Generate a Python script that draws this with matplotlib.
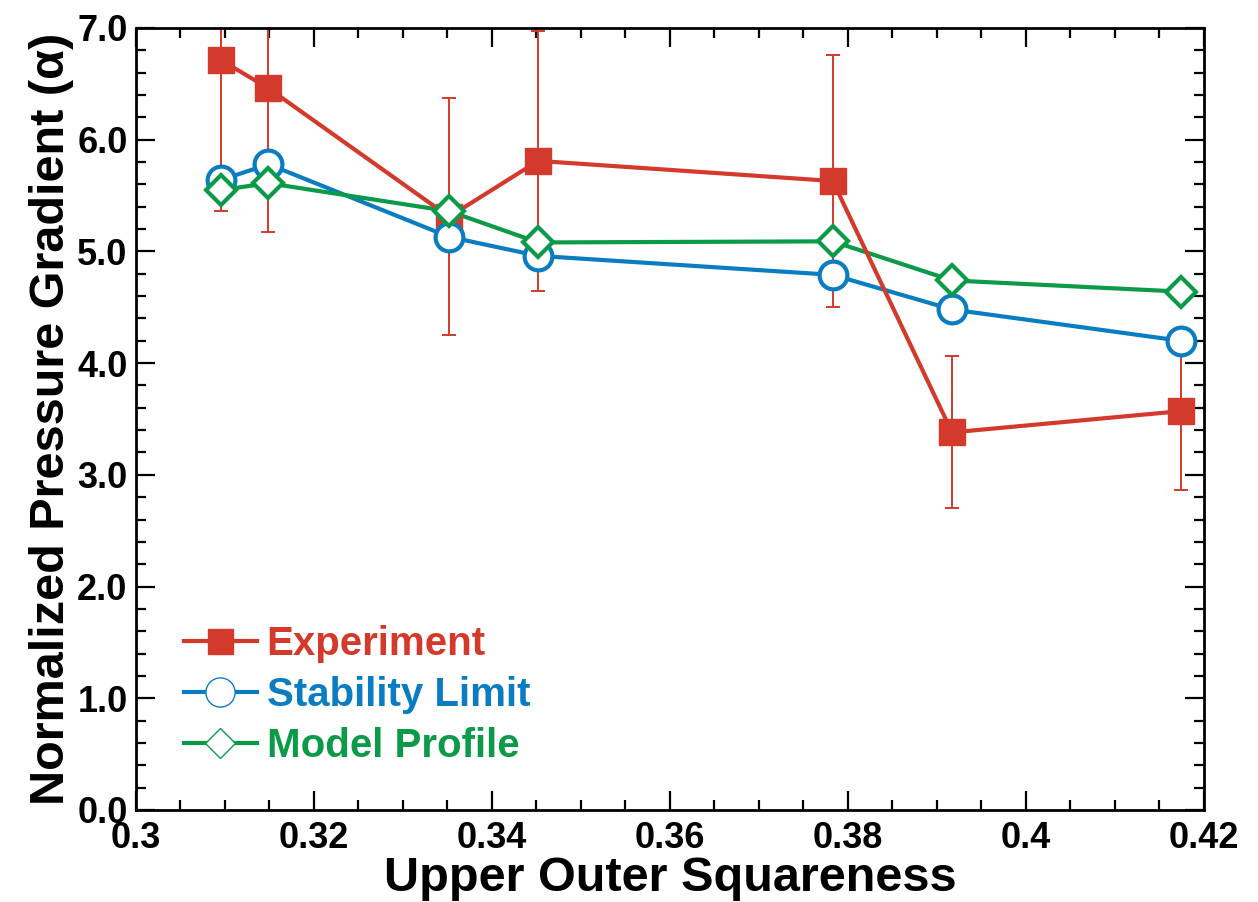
import matplotlib
matplotlib.use('Agg')
import matplotlib.pyplot as plt
from matplotlib.lines import Line2D
from matplotlib.ticker import MultipleLocator, FuncFormatter

plt.rcParams['font.family'] = ['Liberation Sans', 'DejaVu Sans']
plt.rcParams['font.weight'] = 'bold'

# squareness values
sq = [0.3096, 0.3149, 0.3352, 0.3452, 0.3783, 0.3917, 0.4174]
# experiment alpha with error bars
exp_alpha = [6.71, 6.46, 5.31, 5.81, 5.63, 3.38, 3.57]
exp_err = [1.35, 1.29, 1.06, 1.16, 1.13, 0.68, 0.71]
# stability limit
stab = [5.64, 5.78, 5.13, 4.96, 4.79, 4.48, 4.20]
# model profile
model = [5.55, 5.61, 5.36, 5.08, 5.09, 4.74, 4.64]

red = '#d43a2b'
blue = '#0a7dc2'
green = '#0b9a48'

fig = plt.figure(figsize=(12.58, 9.02), dpi=100)
ax = fig.add_axes([0.108, 0.102, 0.849, 0.867])

ax.errorbar(sq, exp_alpha, yerr=exp_err, fmt='none', ecolor=red, elinewidth=1.4,
            capsize=5, capthick=1.4, zorder=2)
ax.plot(sq, stab, color=blue, lw=3, zorder=3)
ax.plot(sq, model, color=green, lw=3, zorder=3)
ax.plot(sq, exp_alpha, color=red, lw=3, zorder=4)
ax.plot(sq, exp_alpha, ls='none', marker='s', ms=18.5, color=red, zorder=5)
ax.plot(sq, stab, ls='none', marker='o', ms=20, mfc='white', mec=blue, mew=3, zorder=6)
ax.plot(sq, model, ls='none', marker='D', ms=15, mfc='white', mec=green, mew=3, zorder=7)

handles = [
    Line2D([], [], color=red, lw=3, marker='s', ms=18),
    Line2D([], [], color=blue, lw=3, marker='o', ms=21, mfc='white', mec=blue, mew=1),
    Line2D([], [], color=green, lw=3, marker='D', ms=15, mfc='white', mec=green, mew=1),
]
ax.legend(handles, ['Experiment', 'Stability Limit', 'Model Profile'],
          loc='lower left', bbox_to_anchor=(0.030, 0.037), frameon=False,
          fontsize=29, labelcolor=[red, blue, green], handlelength=1.8,
          handletextpad=0.25, labelspacing=0.32, borderaxespad=0)

ax.set_xlim(0.3, 0.42)
ax.set_ylim(0, 7)
ax.xaxis.set_major_locator(MultipleLocator(0.02))
ax.xaxis.set_minor_locator(MultipleLocator(0.005))
ax.yaxis.set_major_locator(MultipleLocator(1.0))
ax.yaxis.set_minor_locator(MultipleLocator(0.2))
ax.xaxis.set_major_formatter(FuncFormatter(lambda v, p: '%g' % round(v, 3)))
ax.yaxis.set_major_formatter(FuncFormatter(lambda v, p: '%.1f' % v))
ax.tick_params(which='both', direction='in', top=True, right=True, width=1.6,
               labelsize=26)
ax.tick_params(axis='x', pad=8)
ax.tick_params(axis='y', pad=6)
ax.tick_params(which='major', length=14)
ax.tick_params(which='minor', length=7)
for s in ax.spines.values():
    s.set_linewidth(2)

ax.set_xlabel('Upper Outer Squareness', fontsize=35, fontweight='bold', labelpad=0)
ax.set_ylabel('Normalized Pressure Gradient (\u03b1)', fontsize=35, fontweight='bold', labelpad=2)

fig.savefig('out.png', dpi=100)
